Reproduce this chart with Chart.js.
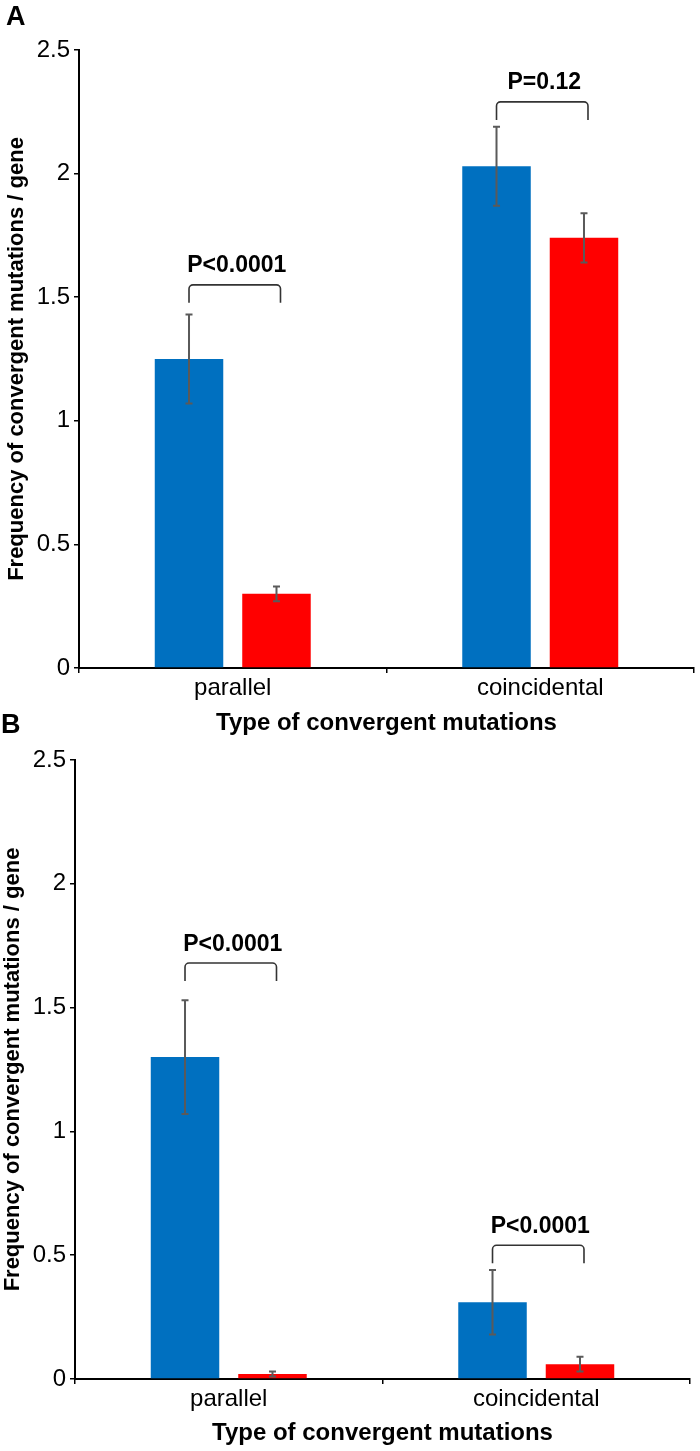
<!DOCTYPE html>
<html>
<head>
<meta charset="utf-8">
<script src="https://cdn.jsdelivr.net/npm/chart.js@4.4.0/dist/chart.umd.min.js"></script>
<style>
    body { margin: 0; background: #fff; width: 700px; height: 1451px; position: relative; overflow: hidden; }
    .painel { position: absolute; left: 0; width: 700px; }
    #painelA { top: 0; height: 740px; }
    #painelB { top: 740px; height: 711px; }
    .letra { position: absolute; font: bold 27px "Liberation Sans", Arial, sans-serif; line-height: 27px; color: #000; }
</style>
</head>
<body>
<div class="painel" id="painelA"><canvas id="graficoA"></canvas></div>
<div class="painel" id="painelB"><canvas id="graficoB"></canvas></div>
<div class="letra" style="left:6px; top:3px;">A</div>
<div class="letra" style="left:1px; top:711px;">B</div>
<script>
// data
var categorias = ['parallel', 'coincidental'];
var ticksY = [0, 0.5, 1, 1.5, 2, 2.5];

var mediaAzulA = [1.25, 2.03];
var erroAzulA = [0.18, 0.16];
var mediaVermelhoA = [0.30, 1.74];
var erroVermelhoA = [0.03, 0.10];
var textoPA = ['P<0.0001', 'P=0.12'];
var alturaChaveA = [1.55, 2.29];

var mediaAzulB = [1.30, 0.31];
var erroAzulB = [0.23, 0.13];
var mediaVermelhoB = [0.02, 0.06];
var erroVermelhoB = [0.01, 0.03];
var textoPB = ['P<0.0001', 'P<0.0001'];
var alturaChaveB = [1.68, 0.54];

var FONTE = '"Liberation Sans", Arial, sans-serif';

var pluginErros = {
    id: 'barrasErro',
    afterDatasetsDraw: function(chart) {
        var ctx = chart.ctx;
        var y = chart.scales.y;
        chart.data.datasets.forEach(function(ds, i) {
            var meta = chart.getDatasetMeta(i);
            meta.data.forEach(function(barra, j) {
                var topo = y.getPixelForValue(ds.data[j] + ds.erros[j]);
                var base = y.getPixelForValue(ds.data[j] - ds.erros[j]);
                ctx.save();
                ctx.strokeStyle = '#5a5a5a';
                ctx.lineWidth = 2;
                ctx.beginPath();
                ctx.moveTo(barra.x, topo);
                ctx.lineTo(barra.x, base);
                ctx.moveTo(barra.x - 3.5, topo);
                ctx.lineTo(barra.x + 3.5, topo);
                ctx.moveTo(barra.x - 3.5, base);
                ctx.lineTo(barra.x + 3.5, base);
                ctx.stroke();
                ctx.restore();
            });
        });
    }
};

var pluginChaves = {
    id: 'chaves',
    afterDatasetsDraw: function(chart, args, opts) {
        var ctx = chart.ctx;
        var y = chart.scales.y;
        var azul = chart.getDatasetMeta(0).data;
        var vermelho = chart.getDatasetMeta(1).data;
        opts.alturas.forEach(function(altura, j) {
            var xE = azul[j].x;
            var xD = vermelho[j].x + 4;
            var yT = y.getPixelForValue(altura);
            var yP = yT + 18;
            var r = 4;
            ctx.save();
            ctx.strokeStyle = '#333';
            ctx.lineWidth = 1.6;
            ctx.beginPath();
            ctx.moveTo(xE, yP);
            ctx.lineTo(xE, yT + r);
            ctx.arcTo(xE, yT, xE + r, yT, r);
            ctx.lineTo(xD - r, yT);
            ctx.arcTo(xD, yT, xD, yT + r, r);
            ctx.lineTo(xD, yP);
            ctx.stroke();
            ctx.fillStyle = '#000';
            ctx.font = 'bold 23px ' + FONTE;
            ctx.textAlign = 'center';
            ctx.textBaseline = 'alphabetic';
            ctx.fillText(opts.textos[j], (xE + xD) / 2 + 2, yT - 12.5);
            ctx.restore();
        });
    }
};

var Figura = (function() {

    function Figura(id, cfg) {
        this.ctx = document.getElementById(id).getContext('2d');
        this.cfg = cfg;
    }

    Figura.prototype.iniciar = function() {
        var cfg = this.cfg;
        new Chart(this.ctx, {
            type: 'bar',
            data: {
                labels: categorias,
                datasets: [{
                    data: cfg.azul,
                    erros: cfg.erroAzul,
                    backgroundColor: '#0070c0',
                    categoryPercentage: 0.569,
                    barPercentage: 0.783,
                },
                {
                    data: cfg.vermelho,
                    erros: cfg.erroVermelho,
                    backgroundColor: '#ff0000',
                    categoryPercentage: 0.569,
                    barPercentage: 0.783,
                }],
            },
            options: {
                responsive: true,
                maintainAspectRatio: false,
                animation: false,
                layout: { padding: { top: cfg.topo, right: cfg.direita, left: 0, bottom: 0 } },
                plugins: {
                    legend: { display: false },
                    tooltip: { enabled: false },
                    chaves: { textos: cfg.textos, alturas: cfg.alturas },
                },
                scales: {
                    x: {
                        grid: { drawOnChartArea: false, tickLength: 5, color: '#000', lineWidth: 1.5, offset: true },
                        border: { color: '#000', width: 2 },
                        ticks: { color: '#000', padding: 1, font: { family: FONTE, size: 24 } },
                        title: {
                            display: true,
                            text: 'Type of convergent mutations',
                            color: '#000',
                            font: { family: FONTE, size: 24, weight: 'bold' },
                            padding: { top: 0, bottom: cfg.tituloX },
                        },
                        afterFit: function(s) { s.height = 72; },
                    },
                    y: {
                        min: 0,
                        max: 2.5,
                        afterBuildTicks: function(s) {
                            s.ticks = ticksY.map(function(v) { return { value: v }; });
                        },
                        grid: { drawOnChartArea: false, tickLength: 5, color: '#000', lineWidth: 1.5 },
                        border: { color: '#000', width: 2 },
                        ticks: {
                            color: '#000',
                            padding: 4,
                            font: { family: FONTE, size: 24 },
                            callback: function(v) { return String(v); },
                        },
                        title: {
                            display: true,
                            text: 'Frequency of convergent mutations / gene',
                            color: '#000',
                            font: { family: FONTE, size: 22, weight: 'bold' },
                            padding: { top: cfg.tituloY, bottom: 0 },
                        },
                        afterFit: function(s) { s.width = cfg.eixoY; },
                    },
                },
            },
            plugins: [pluginErros, pluginChaves],
        });
    };

    return Figura;
}());

var figuraA = new Figura('graficoA', {
    azul: mediaAzulA, erroAzul: erroAzulA,
    vermelho: mediaVermelhoA, erroVermelho: erroVermelhoA,
    textos: textoPA, alturas: alturaChaveA,
    topo: 50, direita: 6, eixoY: 79, tituloX: 2, tituloY: 4,
});
figuraA.iniciar();

var figuraB = new Figura('graficoB', {
    azul: mediaAzulB, erroAzul: erroAzulB,
    vermelho: mediaVermelhoB, erroVermelho: erroVermelhoB,
    textos: textoPB, alturas: alturaChaveB,
    topo: 20, direita: 10, eixoY: 75, tituloX: 3, tituloY: 0,
});
figuraB.iniciar();
</script>
</body>
</html>
